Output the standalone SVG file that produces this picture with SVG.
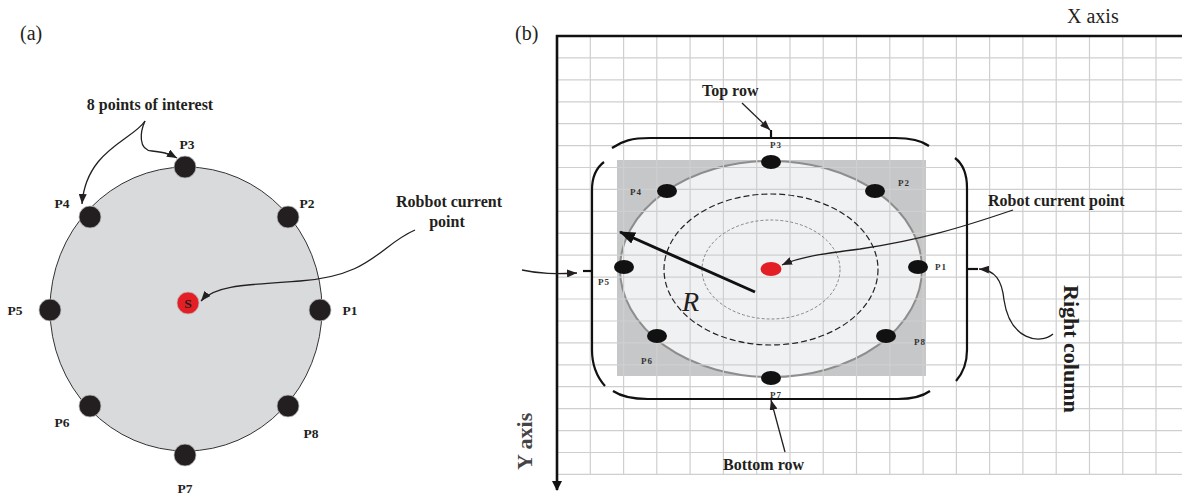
<svg xmlns="http://www.w3.org/2000/svg" width="1182" height="501" viewBox="0 0 1182 501">
<style>
.t{font-family:"Liberation Serif","Times New Roman",serif;fill:#231f20}
.b{font-weight:bold}
.pa{font-family:"Liberation Serif",serif;font-weight:bold;font-size:13.5px;fill:#231f20;text-anchor:middle}
.pb{font-family:"Liberation Serif",serif;font-weight:bold;font-size:9px;fill:#333;letter-spacing:1px}
.lbl{font-family:"Liberation Serif",serif;font-weight:bold;font-size:16px;fill:#231f20}
.dot{fill:#231f20;stroke:#bbb;stroke-width:0.8}
.conn{fill:none;stroke:#231f20;stroke-width:1.3}
.brk{fill:none;stroke:#111;stroke-width:2.2}
</style>
<defs>
<marker id="ah" viewBox="0 0 10 8" refX="10" refY="4" markerWidth="10" markerHeight="8" markerUnits="userSpaceOnUse" orient="auto">
<path d="M0,0 L10,4 L0,8 z" fill="#231f20"/>
</marker>
<marker id="ahBig" viewBox="0 0 16 12" refX="15" refY="6" markerWidth="16" markerHeight="12" markerUnits="userSpaceOnUse" orient="auto">
<path d="M0,0 L16,6 L0,12 z" fill="#111"/>
</marker>
<marker id="ahAxis" viewBox="0 0 10 10" refX="9" refY="5" markerWidth="10" markerHeight="10" markerUnits="userSpaceOnUse" orient="auto">
<path d="M0,0 L10,5 L0,10 z" fill="#111"/>
</marker>
</defs>
<rect width="1182" height="501" fill="#fff"/>

<!-- Panel (a) -->
<text class="t" x="20" y="40" font-size="20">(a)</text>
<g id="circleA">
<ellipse cx="186" cy="309" rx="136" ry="142" fill="#d9dadc" stroke="#333" stroke-width="1"/>
</g>
<g id="a-P3"><circle class="dot" cx="185" cy="167" r="11"/><text class="pa" x="187" y="149">P3</text></g>
<g id="a-P4"><circle class="dot" cx="90" cy="217" r="11"/><text class="pa" x="62" y="208">P4</text></g>
<g id="a-P2"><circle class="dot" cx="288" cy="217" r="11"/><text class="pa" x="307" y="208">P2</text></g>
<g id="a-P5"><circle class="dot" cx="50" cy="310" r="11"/><text class="pa" x="15" y="315">P5</text></g>
<g id="a-P1"><circle class="dot" cx="320" cy="310" r="11"/><text class="pa" x="350" y="315">P1</text></g>
<g id="a-P6"><circle class="dot" cx="90" cy="406" r="11"/><text class="pa" x="62" y="427">P6</text></g>
<g id="a-P8"><circle class="dot" cx="288" cy="406" r="11"/><text class="pa" x="311" y="438">P8</text></g>
<g id="a-P7"><circle class="dot" cx="185" cy="455" r="11"/><text class="pa" x="185" y="493">P7</text></g>
<g id="a-S"><circle cx="188" cy="303" r="11" fill="#e31e24" stroke="#bbb" stroke-width="0.8"/><text class="pa" x="188" y="307.5" font-size="12">S</text></g>
<g id="a-label-poi"><text class="lbl" x="150" y="110" text-anchor="middle">8 points of interest</text></g>
<g id="a-label-robbot"><text class="lbl" x="449" y="207" text-anchor="middle">Robbot current</text><text class="lbl" x="447" y="227" text-anchor="middle">point</text></g>
<g id="a-connectors">
<path class="conn" d="M145,121 C133,140 86,150 82,204" marker-end="url(#ah)"/>
<path class="conn" d="M145,121 C140,132 138,150 152,151 C162,152 168,153 177,158" marker-end="url(#ah)"/>
<path class="conn" d="M415,230 C380,245 372,276 300,281 C240,285 214,286 201,301" marker-end="url(#ah)"/>
</g>

<!-- Panel (b) -->
<text class="t" x="515" y="40" font-size="20">(b)</text>
<text class="t" x="1067" y="23" font-size="20">X axis</text>

<g id="b-area">
<rect x="617" y="160" width="309" height="216" fill="#c6c7c9"/>
<ellipse cx="771" cy="269" rx="151" ry="108" fill="#f0f1f2" stroke="#8d8d8d" stroke-width="2"/>
</g>

<g id="grid" fill="none" stroke="#cfcfcf" stroke-width="1.2">
<path d="M590.3,36V474.4M623.6,36V474.4M656.8,36V474.4M690.1,36V474.4M723.4,36V474.4M756.7,36V474.4M790,36V474.4M823.2,36V474.4M856.5,36V474.4M889.8,36V474.4M923.1,36V474.4M956.4,36V474.4M989.6,36V474.4M1022.9,36V474.4M1056.2,36V474.4M1089.5,36V474.4M1122.8,36V474.4M1156,36V474.4"/>
<path d="M557,57.9H1182M557,79.8H1182M557,101.8H1182M557,123.7H1182M557,145.6H1182M557,167.5H1182M557,189.4H1182M557,211.4H1182M557,233.3H1182M557,255.2H1182M557,277.1H1182M557,299H1182M557,321H1182M557,342.9H1182M557,364.8H1182M557,386.7H1182M557,408.6H1182M557,430.6H1182M557,452.5H1182M557,474.4H1182"/>
</g>

<g id="b-rings">
<ellipse cx="771" cy="269.5" rx="107" ry="75.5" fill="none" stroke="#222" stroke-width="1.2" stroke-dasharray="6 3"/>
<ellipse cx="771" cy="269.5" rx="69" ry="49.5" fill="none" stroke="#888" stroke-width="1" stroke-dasharray="3 2"/>
</g>

<g id="axes" fill="none" stroke="#111" stroke-width="2.6">
<path d="M556,36H1182"/>
<path d="M557,35V490" marker-end="url(#ahAxis)"/>
</g>
<text class="t b" font-size="22" fill="#444" transform="translate(532,470) rotate(-90)" style="fill:#444">Y axis</text>

<g id="b-P3"><ellipse cx="771" cy="162" rx="10" ry="7" fill="#111"/><text class="pb" x="770" y="148">P3</text></g>
<g id="b-P4"><ellipse cx="667" cy="191" rx="10" ry="7" fill="#111"/><text class="pb" x="630" y="195">P4</text></g>
<g id="b-P2"><ellipse cx="875" cy="191" rx="10" ry="7" fill="#111"/><text class="pb" x="898" y="186">P2</text></g>
<g id="b-P5"><ellipse cx="624" cy="267" rx="10" ry="7" fill="#111"/><text class="pb" x="598" y="285">P5</text></g>
<g id="b-P1"><ellipse cx="918" cy="267" rx="10" ry="7" fill="#111"/><text class="pb" x="935" y="270">P1</text></g>
<g id="b-P6"><ellipse cx="657" cy="336" rx="10" ry="7" fill="#111"/><text class="pb" x="641" y="364">P6</text></g>
<g id="b-P8"><ellipse cx="886" cy="336" rx="10" ry="7" fill="#111"/><text class="pb" x="914" y="345">P8</text></g>
<g id="b-P7"><ellipse cx="771" cy="378" rx="10" ry="7" fill="#111"/><text class="pb" x="770" y="398">P7</text></g>
<g id="b-robot"><ellipse cx="771" cy="269" rx="10.5" ry="7" fill="#e31e24"/></g>

<g id="b-brackets">
<path class="brk" d="M612,148 C622,141 632,138 650,138 L895,138 C912,138 922,141 929,146"/>
<path class="brk" d="M771,130 V138"/>
<path class="brk" d="M604,162 C596,168 592,176 592,190 L592,350 C592,365 597,377 605,386"/>
<path class="brk" d="M583,271 H592"/>
<path class="brk" d="M613,391 C622,397 632,399 648,399 L898,399 C913,399 923,396 930,391"/>
<path class="brk" d="M955,158 C963,164 967,174 967,188 L967,350 C967,363 963,373 956,381"/>
<path class="brk" d="M967,269 H978"/>
</g>

<g id="b-labels">
<text class="lbl" x="702" y="96">Top row</text>
<text class="lbl" x="723" y="470">Bottom row</text>
<text class="lbl" x="988" y="206">Robot current point</text>
<text class="t b" font-size="22" transform="translate(1064,285) rotate(90)">Right column</text>
<text class="t" x="682" y="311" font-size="28" font-style="italic">R</text>
</g>

<g id="b-connectors">
<path d="M755,292 L620,232" fill="none" stroke="#111" stroke-width="3" marker-end="url(#ahBig)"/>
<path class="conn" d="M742,103 L770,130" marker-end="url(#ah)"/>
<path class="conn" d="M785,452 L771,400" marker-end="url(#ah)"/>
<path class="conn" d="M522,270 C540,274 555,274 577,273" marker-end="url(#ah)"/>
<path class="conn" d="M1053,334 C1040,345 1010,340 1004,300 C1002,280 995,270 979,269" marker-end="url(#ah)"/>
<path class="conn" d="M1013,210 C960,228 920,240 860,249 C820,254 800,257 782,265" marker-end="url(#ah)"/>
</g>
</svg>
